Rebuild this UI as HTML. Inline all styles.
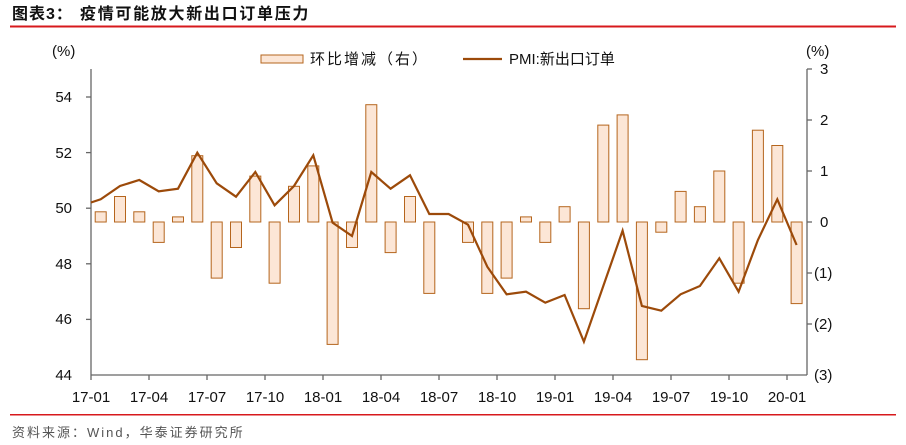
<!DOCTYPE html>
<html><head><meta charset="utf-8"><style>
body{margin:0;background:#fff;}
svg{display:block;font-family:"Liberation Sans","Noto Sans CJK SC",sans-serif;}
</style></head><body>
<svg width="906" height="445" viewBox="0 0 906 445" xmlns="http://www.w3.org/2000/svg">
<text x="12" y="19" font-size="16" font-weight="bold" fill="#111" letter-spacing="1">图表3：</text>
<text x="80" y="19" font-size="16" font-weight="bold" fill="#111" letter-spacing="1.7">疫情可能放大新出口订单压力</text>
<rect x="10" y="25.5" width="886" height="2" fill="#d7191c"/>
<rect x="10" y="414" width="886" height="1.5" fill="#d7191c"/>
<text x="12" y="437" font-size="13" fill="#555" letter-spacing="2">资料来源：Wind，华泰证券研究所</text>

<g stroke="#666" stroke-width="1.3" fill="none">
<line x1="91" y1="69" x2="91" y2="375"/>
<line x1="807" y1="69" x2="807" y2="375"/>
<line x1="91" y1="375" x2="807" y2="375"/>
<line x1="86" y1="97" x2="91" y2="97"/><line x1="86" y1="152.6" x2="91" y2="152.6"/><line x1="86" y1="208.2" x2="91" y2="208.2"/><line x1="86" y1="263.8" x2="91" y2="263.8"/><line x1="86" y1="319.4" x2="91" y2="319.4"/>
<line x1="807" y1="69" x2="812" y2="69"/><line x1="807" y1="120" x2="812" y2="120"/><line x1="807" y1="171" x2="812" y2="171"/><line x1="807" y1="222" x2="812" y2="222"/><line x1="807" y1="273" x2="812" y2="273"/><line x1="807" y1="324" x2="812" y2="324"/>
<line x1="91" y1="375" x2="91" y2="380"/><line x1="149" y1="375" x2="149" y2="380"/><line x1="207" y1="375" x2="207" y2="380"/><line x1="265" y1="375" x2="265" y2="380"/><line x1="323" y1="375" x2="323" y2="380"/><line x1="381" y1="375" x2="381" y2="380"/><line x1="439" y1="375" x2="439" y2="380"/><line x1="497" y1="375" x2="497" y2="380"/><line x1="555" y1="375" x2="555" y2="380"/><line x1="613" y1="375" x2="613" y2="380"/><line x1="671" y1="375" x2="671" y2="380"/><line x1="729" y1="375" x2="729" y2="380"/><line x1="787" y1="375" x2="787" y2="380"/>
</g>
<g font-size="15" fill="#111">
<text x="52" y="56">(%)</text>
<text x="806" y="56">(%)</text>
<g text-anchor="end"><text x="72" y="102">54</text><text x="72" y="158">52</text><text x="72" y="213">50</text><text x="72" y="269">48</text><text x="72" y="324">46</text><text x="72" y="380">44</text></g>
<g><text x="820" y="74">3</text><text x="820" y="125">2</text><text x="820" y="176">1</text><text x="820" y="227">0</text><text x="814" y="278">(1)</text><text x="814" y="329">(2)</text><text x="814" y="380">(3)</text></g>
<g text-anchor="middle"><text x="91" y="402">17-01</text><text x="149" y="402">17-04</text><text x="207" y="402">17-07</text><text x="265" y="402">17-10</text><text x="323" y="402">18-01</text><text x="381" y="402">18-04</text><text x="439" y="402">18-07</text><text x="497" y="402">18-10</text><text x="555" y="402">19-01</text><text x="613" y="402">19-04</text><text x="671" y="402">19-07</text><text x="729" y="402">19-10</text><text x="787" y="402">20-01</text></g>
</g>

<rect x="261" y="55" width="42" height="8" fill="#fce6d6" stroke="#b5651d" stroke-width="1"/>
<text x="310" y="64" font-size="15" fill="#111" letter-spacing="2">环比增减（右）</text>
<line x1="463" y1="59" x2="502" y2="59" stroke="#9c4a0a" stroke-width="2.2"/>
<text x="509" y="64" font-size="15" fill="#111">PMI:新出口订单</text>

<g fill="#fce6d6" stroke="#b5651d" stroke-width="1">
<rect x="95.2" y="211.8" width="11" height="10.2"/>
<rect x="114.5" y="196.5" width="11" height="25.5"/>
<rect x="133.8" y="211.8" width="11" height="10.2"/>
<rect x="153.2" y="222" width="11" height="20.4"/>
<rect x="172.5" y="216.9" width="11" height="5.1"/>
<rect x="191.8" y="155.7" width="11" height="66.3"/>
<rect x="211.2" y="222" width="11" height="56.1"/>
<rect x="230.5" y="222" width="11" height="25.5"/>
<rect x="249.8" y="176.1" width="11" height="45.9"/>
<rect x="269.1" y="222" width="11" height="61.2"/>
<rect x="288.5" y="186.3" width="11" height="35.7"/>
<rect x="307.8" y="165.9" width="11" height="56.1"/>
<rect x="327.1" y="222" width="11" height="122.4"/>
<rect x="346.5" y="222" width="11" height="25.5"/>
<rect x="365.8" y="104.7" width="11" height="117.3"/>
<rect x="385.1" y="222" width="11" height="30.6"/>
<rect x="404.5" y="196.5" width="11" height="25.5"/>
<rect x="423.8" y="222" width="11" height="71.4"/>
<rect x="462.5" y="222" width="11" height="20.4"/>
<rect x="481.8" y="222" width="11" height="71.4"/>
<rect x="501.1" y="222" width="11" height="56.1"/>
<rect x="520.5" y="216.9" width="11" height="5.1"/>
<rect x="539.8" y="222" width="11" height="20.4"/>
<rect x="559.1" y="206.7" width="11" height="15.3"/>
<rect x="578.4" y="222" width="11" height="86.7"/>
<rect x="597.8" y="125.1" width="11" height="96.9"/>
<rect x="617.1" y="114.9" width="11" height="107.1"/>
<rect x="636.4" y="222" width="11" height="137.7"/>
<rect x="655.8" y="222" width="11" height="10.2"/>
<rect x="675.1" y="191.4" width="11" height="30.6"/>
<rect x="694.4" y="206.7" width="11" height="15.3"/>
<rect x="713.8" y="171" width="11" height="51"/>
<rect x="733.1" y="222" width="11" height="61.2"/>
<rect x="752.4" y="130.2" width="11" height="91.8"/>
<rect x="771.8" y="145.5" width="11" height="76.5"/>
<rect x="791.1" y="222" width="11" height="81.6"/>
</g>

<polyline fill="none" stroke="#9c4a0a" stroke-width="2.2" points="91,202.5 100.7,199.3 120,186 139.3,180 158.7,191.3 178,188.7 197.3,152.7 216.7,183.3 236,196.7 255.3,172 274.6,205.3 294,186 313.3,155.3 332.6,222.7 352,236 371.3,172 390.6,188.7 410,175.3 429.3,214 448.6,214 468,224.7 487.3,266.7 506.6,294.3 526,291.7 545.3,302.7 564.6,295 583.9,341.7 603.3,286 622.6,230.7 641.9,306 661.3,310.7 680.6,294.3 699.9,286 719.3,258.3 738.6,291.7 757.9,240 777.3,199.3 796.6,245"/>
</svg>
</body></html>
